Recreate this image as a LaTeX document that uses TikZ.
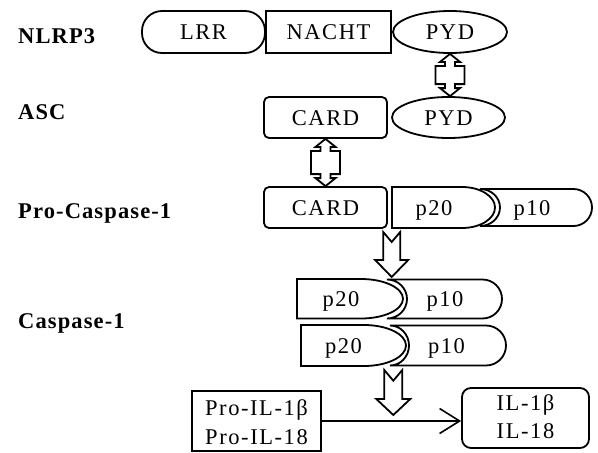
\documentclass[tikz,border=0pt]{standalone}
\usepackage{fontspec}
\setmainfont{Liberation Serif}[LetterSpace=7]
\newfontfamily\lblfont{Liberation Serif}[LetterSpace=5]
\usetikzlibrary{calc,arrows.meta,shapes.geometric}
\newcommand\dblarr[2]{%
\draw[blk] let \p1=(#1), \p2=(#2) in
 (\x1,\y1) -- (\x1-10pt,\y1-8pt) -- (\x1-5pt,\y1-8pt) -- (\x1-5pt,\y1-12pt)
 -- (\x1-14.5pt,\y1-12pt) -- (\x1-14.5pt,\y2+12pt) -- (\x1-5pt,\y2+12pt)
 -- (\x1-5pt,\y2+8pt) -- (\x1-10pt,\y2+8pt) -- (\x1,\y2) -- (\x1+10pt,\y2+8pt)
 -- (\x1+5pt,\y2+8pt) -- (\x1+5pt,\y2+12pt) -- (\x1+14.5pt,\y2+12pt)
 -- (\x1+14.5pt,\y1-12pt) -- (\x1+5pt,\y1-12pt) -- (\x1+5pt,\y1-8pt)
 -- (\x1+10pt,\y1-8pt) -- cycle;}
% #1 top, #2 tip, #3 shaft half width, #4 head half width, #5 head length, #6 notch
\newcommand\downarr[6]{%
\draw[blk] let \p1=(#1), \p2=(#2) in
 (\x1-#3pt,\y1) -- (\x1,\y1-#6pt) -- (\x1+#3pt,\y1) -- (\x1+#3pt,\y2+#5pt)
 -- (\x1+#4pt,\y2+#5pt) -- (\x1,\y2) -- (\x1-#4pt,\y2+#5pt) -- (\x1-#3pt,\y2+#5pt) -- cycle;}
\begin{document}
\begin{tikzpicture}[x=1pt,y=-1pt,
  every node/.style={font=\fontsize{22.5}{27}\selectfont, inner sep=0pt,
     text height=15.5pt, text depth=0pt},
  shp/.style={draw, line width=1.8pt},
  lbl/.style={font=\lblfont\bfseries\fontsize{22.5}{27}\selectfont, anchor=west},
  blk/.style={draw, line width=1.8pt, fill=white, line join=miter},
  part/.style={draw, line width=1.8pt, fill=white},
]
\useasboundingbox (0,0) rectangle (598,453);

% left labels
\node[lbl] (lnlrp) at (18,35.5) {NLRP3};
\node[lbl] (lasc) at (18,112) {ASC};
\node[lbl] (lpro) at (18,210.5) {Pro-Caspase-1};
\node[lbl] (lcasp) at (18,320.5) {Caspase-1};

% NLRP3 row
\node[shp, rounded corners=20pt, minimum width=123pt, minimum height=42pt] (lrr) at (203.5,32) {LRR};
\node[shp, minimum width=125pt, minimum height=42pt] (nacht) at (328.5,32) {NACHT};
\node[shp, ellipse, minimum width=114pt, minimum height=42pt] (pyd1) at (450,32) {PYD};

% ASC row
\node[shp, rounded corners=5pt, minimum width=123pt, minimum height=41pt] (card1) at (325.5,117.5) {CARD};
\node[shp, ellipse, minimum width=113pt, minimum height=41pt] (pyd2) at (448.5,117.5) {PYD};

% Pro-Caspase-1 row
\node[shp, rounded corners=5pt, minimum width=123pt, minimum height=41pt] (card2) at (325.5,207.5) {CARD};
\draw[part] (480,189) -- (573.5,189) arc[start angle=90,end angle=-90,radius=18.5pt]
  -- (480,226) arc[start angle=-90,end angle=90,x radius=20pt,y radius=18.5pt] -- cycle;
\draw[part] (392,187) -- (462,187) arc[start angle=90,end angle=-90,x radius=33pt,y radius=20.5pt]
  -- (392,228) -- cycle;
\node (p20a) at (434,207.5) {p20};
\node (p10a) at (532,207.5) {p10};

% Caspase-1 row 1
\draw[part] (387,279.5) -- (482.5,279.5) arc[start angle=90,end angle=-90,radius=19.5pt]
  -- (387,318.5) arc[start angle=-90,end angle=90,x radius=20pt,y radius=19.5pt] -- cycle;
\draw[part] (297,279) -- (361,279) arc[start angle=90,end angle=-90,x radius=42pt,y radius=19.75pt]
  -- (297,318.5) -- cycle;
\node (p20b) at (341,299) {p20};
\node (p10b) at (445,299) {p10};

% Caspase-1 row 2
\draw[part] (390,325.5) -- (486,325.5) arc[start angle=90,end angle=-90,radius=20pt]
  -- (390,365.5) arc[start angle=-90,end angle=90,x radius=19pt,y radius=20pt] -- cycle;
\draw[part] (301,325) -- (364,325) arc[start angle=90,end angle=-90,x radius=42pt,y radius=20.5pt]
  -- (301,366) -- cycle;
\node (p20c) at (343.5,345.5) {p20};
\node (p10c) at (446.5,345.5) {p10};

% bottom boxes
\node[shp, minimum width=129pt, minimum height=60pt] (proil) at (256.5,421) {};
\node (proil1) at (256.5,407.5) {Pro-IL-1β};
\node (proil2) at (256.5,436.5) {Pro-IL-18};
\node[shp, rounded corners=9pt, minimum width=127pt, minimum height=60pt] (il) at (525.5,418) {};
\node (il1) at (525.5,402.5) {IL-1β};
\node (il2) at (525.5,430.5) {IL-18};
\draw[line width=1.6pt, -{Straight Barb[length=20pt,width=25pt]}] (proil.east) -- (proil.east -| il.west);

% block arrows
\dblarr{pyd1.south}{pyd2.north}
\dblarr{card1.south}{card2.north}
\coordinate (a1top) at (391.7,232);
\coordinate (a1tip) at (391.7,277);
\coordinate (a2top) at (393.3,370);
\coordinate (a2tip) at (393.3,415);
\downarr{a1top}{a1tip}{8.5}{16.5}{17}{10}
\downarr{a2top}{a2tip}{9}{17}{16}{10.7}
\end{tikzpicture}
\end{document}
